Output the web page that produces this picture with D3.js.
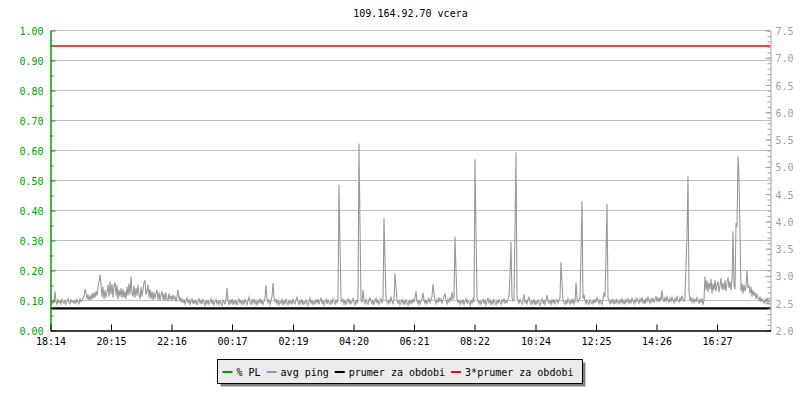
<!DOCTYPE html>
<html>
<head>
<meta charset="utf-8">
<script src="https://cdn.jsdelivr.net/npm/d3@7"></script>
<style>
  html, body { margin: 0; padding: 0; background: #fff; }
  svg { display: block; font-family: "DejaVu Sans Mono", monospace; }
</style>
</head>
<body>
<svg id="chart" width="800" height="400"></svg>
<script>
// ---------------- data ----------------
const chartTitle = "109.164.92.70 vcera";
const timeTickLabels = ["18:14","20:15","22:16","00:17","02:19","04:20","06:21","08:22","10:24","12:25","14:26","16:27"];
const timeTickMinutes = [0,121,242,363,485,606,727,848,970,1091,1212,1333];
const periodMinutes = 1440;
const sampleStepMinutes = 2;
const plTickValues = [0,0.1,0.2,0.3,0.4,0.5,0.6,0.7,0.8,0.9,1.0];
const pingTickValues = [2.0,2.5,3.0,3.5,4.0,4.5,5.0,5.5,6.0,6.5,7.0,7.5];
const plDomain = [0, 1];
const pingDomain = [2, 7.5];
// avg ping (right axis), one sample every 2 minutes
const avgPing = [
  2.52,2.49,2.55,2.50,2.72,2.53,2.48,2.56,2.51,2.54,2.49,2.57,2.52,2.50,2.55,2.48,2.53,2.58,2.51,2.49,2.56,2.52,2.54,2.50,
  2.55,2.50,2.57,2.52,2.49,2.58,2.53,2.56,2.60,2.62,2.76,2.70,2.58,2.66,2.55,2.64,2.56,2.68,2.58,2.70,2.60,2.72,2.64,2.80,
  2.90,3.02,2.85,2.62,2.80,2.58,2.74,2.60,2.70,2.84,2.62,2.90,2.66,2.85,2.60,2.82,2.88,2.64,2.84,2.58,2.75,2.62,2.78,2.60,
  2.76,2.60,2.72,2.58,2.80,2.64,2.86,2.66,2.99,2.70,2.62,2.82,2.60,2.78,2.64,2.84,2.66,2.58,2.80,2.62,2.74,2.88,2.92,2.66,
  2.72,2.84,2.60,2.76,2.58,2.72,2.56,2.70,2.58,2.68,2.74,2.56,2.70,2.55,2.66,2.72,2.56,2.68,2.54,2.70,2.58,2.55,2.68,2.57,
  2.64,2.55,2.66,2.58,2.62,2.53,2.63,2.75,2.56,2.61,2.52,2.59,2.50,2.57,2.49,2.55,2.60,2.50,2.56,2.48,2.54,2.58,2.49,2.55,
  2.50,2.56,2.47,2.53,2.59,2.50,2.55,2.48,2.57,2.52,2.46,2.54,2.49,2.56,2.48,2.53,2.58,2.49,2.55,2.47,2.52,2.57,2.49,2.54,
  2.48,2.55,2.50,2.46,2.56,2.52,2.49,2.57,2.78,2.53,2.48,2.55,2.50,2.58,2.47,2.54,2.49,2.56,2.46,2.53,2.59,2.50,2.55,2.48,
  2.54,2.49,2.57,2.52,2.47,2.55,2.61,2.53,2.48,2.56,2.50,2.58,2.49,2.54,2.46,2.55,2.51,2.59,2.49,2.56,2.48,2.53,2.60,2.83,
  2.58,2.51,2.56,2.48,2.54,2.62,2.87,2.60,2.52,2.57,2.49,2.55,2.47,2.53,2.50,2.56,2.48,2.54,2.49,2.57,2.51,2.47,2.55,2.50,
  2.54,2.48,2.58,2.51,2.49,2.56,2.61,2.52,2.48,2.55,2.50,2.57,2.47,2.53,2.49,2.56,2.51,2.46,2.54,2.59,2.50,2.55,2.48,2.53,
  2.49,2.56,2.51,2.58,2.48,2.54,2.60,2.50,2.55,2.47,2.53,2.57,2.49,2.56,2.51,2.48,2.55,2.50,2.58,2.52,2.48,2.56,2.51,2.58,
  4.67,3.57,2.60,2.52,2.57,2.49,2.55,2.48,2.54,2.58,2.50,2.56,2.49,2.53,2.59,2.51,2.47,2.55,2.50,2.57,5.43,3.93,2.56,2.51,
  2.74,2.55,2.49,2.57,2.51,2.48,2.56,2.60,2.52,2.49,2.55,2.47,2.54,2.59,2.50,2.56,2.48,2.53,2.58,2.51,2.55,4.06,3.29,2.58,
  2.52,2.49,2.56,2.51,2.62,2.54,2.49,2.57,3.05,2.80,2.56,2.50,2.55,2.47,2.53,2.57,2.49,2.54,2.48,2.56,2.51,2.46,2.54,2.49,
  2.55,2.50,2.57,2.52,2.60,2.72,2.54,2.49,2.56,2.48,2.53,2.58,2.69,2.55,2.50,2.57,2.49,2.54,2.60,2.51,2.56,2.62,2.85,2.68,
  2.55,2.49,2.57,2.51,2.61,2.54,2.58,2.50,2.56,2.62,2.68,2.55,2.49,2.57,2.52,2.60,2.56,2.70,2.58,2.62,3.72,3.11,2.57,2.51,
  2.55,2.48,2.54,2.50,2.57,2.47,2.53,2.59,2.49,2.55,2.51,2.46,2.56,2.50,2.58,2.52,5.14,3.82,2.60,2.54,2.49,2.56,2.48,2.53,
  2.57,2.50,2.55,2.47,2.53,2.60,2.51,2.56,2.48,2.54,2.49,2.57,2.52,2.47,2.55,2.50,2.58,2.51,2.48,2.56,2.52,2.59,2.49,2.55,
  2.51,2.58,2.62,3.02,3.63,2.60,2.54,2.57,3.88,5.27,2.62,2.55,2.50,2.57,2.52,2.48,2.56,2.66,2.51,2.55,2.49,2.57,2.61,2.52,
  2.48,2.55,2.50,2.57,2.47,2.53,2.49,2.56,2.51,2.46,2.54,2.58,2.49,2.55,2.48,2.53,2.65,2.57,2.50,2.54,2.48,2.56,2.51,2.58,
  2.49,2.54,2.57,2.50,2.55,2.60,3.25,2.89,2.56,2.51,2.48,2.55,2.50,2.58,2.52,2.48,2.56,2.51,2.57,2.49,2.54,2.88,2.58,2.52,
  2.56,2.60,3.44,4.37,2.58,2.66,2.54,2.49,2.56,2.51,2.48,2.57,2.52,2.49,2.55,2.50,2.58,2.51,2.61,2.55,2.49,2.56,2.51,2.48,
  2.57,2.70,2.62,3.38,4.32,2.60,2.54,2.49,2.56,2.51,2.58,2.48,2.55,2.50,2.57,2.52,2.49,2.56,2.51,2.59,2.50,2.55,2.48,2.57,
  2.52,2.58,2.50,2.56,2.51,2.60,2.54,2.49,2.57,2.52,2.59,2.55,2.50,2.58,2.53,2.61,2.51,2.56,2.49,2.58,2.53,2.62,2.55,2.50,
  2.58,2.53,2.60,2.51,2.57,2.63,2.54,2.59,2.52,2.61,2.55,2.74,2.58,2.53,2.60,2.54,2.62,2.56,2.52,2.59,2.54,2.61,2.55,2.51,
  2.59,2.54,2.62,2.56,2.52,2.60,2.55,2.64,2.57,2.54,2.61,3.20,3.73,4.83,2.70,2.55,2.60,2.52,2.58,2.51,2.57,2.53,2.60,2.54,
  2.50,2.57,2.52,2.59,2.47,2.56,2.99,2.74,2.92,2.70,2.88,2.76,2.95,2.68,2.86,2.74,2.93,2.72,2.84,2.90,2.70,2.82,2.96,2.75,
  2.87,2.74,2.92,2.72,2.88,2.98,2.78,2.90,2.74,2.94,3.82,2.82,2.76,3.97,3.90,5.19,4.79,3.79,2.72,2.86,2.68,2.84,2.72,2.80,
  3.10,2.78,2.82,2.68,2.80,2.62,2.74,2.64,2.70,2.58,2.66,2.60,2.55,2.62,2.52,2.58,2.54,2.50,2.57,2.52,2.60,2.51,2.56,2.53
];
const periodAverage = 2.405;
const averageMultiplier = 3;
const legendLabels = ["% PL", "avg ping", "prumer za obdobi", "3*prumer za obdobi"];
const legendColors = ["#00a000", "#999999", "#000000", "#ff0000"];

// ---------------- layout ----------------
const svg = d3.select("#chart");
const plotLeft = 50.5, plotRight = 770.5, plotTop = 30.5, plotBottom = 330.5;

const x = d3.scaleLinear().domain([0, periodMinutes]).range([plotLeft, plotRight]);
const yPL = d3.scaleLinear().domain(plDomain).range([plotBottom, plotTop]);
const yPing = d3.scaleLinear().domain(pingDomain).range([plotBottom, plotTop]);

svg.append("rect").attr("width", 800).attr("height", 400).attr("fill", "#fff");

// title
svg.append("text").attr("x", (plotLeft + plotRight) / 2).attr("y", 17)
  .attr("text-anchor", "middle").attr("font-size", 10).attr("fill", "#000")
  .text(chartTitle);

// gridlines
svg.append("g").selectAll("line").data(plTickValues.filter(d => d > 0)).join("line")
  .attr("x1", plotLeft).attr("x2", plotRight)
  .attr("y1", d => Math.round(yPL(d) - 0.5) + 0.5).attr("y2", d => Math.round(yPL(d) - 0.5) + 0.5)
  .attr("stroke", "#c0c0c0").attr("stroke-width", 1);

// avg ping line
const pingLine = d3.line()
  .x((d, i) => x(i * sampleStepMinutes) + 0.5)
  .y(d => yPing(d));
svg.append("path").datum(avgPing).attr("d", pingLine)
  .attr("fill", "none").attr("stroke", legendColors[1]).attr("stroke-width", 1.1);

// period average
svg.append("line").attr("x1", plotLeft).attr("x2", plotRight)
  .attr("y1", yPing(periodAverage)).attr("y2", yPing(periodAverage))
  .attr("stroke", legendColors[2]).attr("stroke-width", 2.2);
svg.append("line").attr("x1", plotLeft).attr("x2", plotRight)
  .attr("y1", yPing(periodAverage * averageMultiplier)).attr("y2", yPing(periodAverage * averageMultiplier))
  .attr("stroke", legendColors[3]).attr("stroke-width", 1.5);

// left axis (% PL)
const leftMinor = svg.append("g").attr("transform", `translate(${plotLeft},0)`)
  .call(d3.axisLeft(yPL).tickValues(d3.range(0.05, 1, 0.1)).tickSize(-3).tickSizeOuter(0).tickFormat(""));
leftMinor.select(".domain").remove();
leftMinor.selectAll("line").attr("stroke", legendColors[0]);
const leftAxis = svg.append("g").attr("transform", `translate(${plotLeft},0)`)
  .call(d3.axisLeft(yPL).tickValues(plTickValues).tickSize(-5).tickSizeOuter(0).tickPadding(7).tickFormat(d3.format(".2f")));
leftAxis.select(".domain").attr("stroke", legendColors[0]).attr("stroke-width", 1.5);
leftAxis.selectAll("line").attr("stroke", legendColors[0]);
leftAxis.selectAll("text").attr("fill", legendColors[0]).attr("font-size", 10)
  .attr("font-family", "DejaVu Sans Mono").attr("dy", "0.4em");

// right axis (ping)
const rightMinor = svg.append("g").attr("transform", `translate(${plotRight},0)`)
  .call(d3.axisRight(yPing).ticks(55).tickSize(-3).tickSizeOuter(0).tickFormat(""));
rightMinor.select(".domain").remove();
rightMinor.selectAll("line").attr("stroke", "#a0a0a0");
const rightAxis = svg.append("g").attr("transform", `translate(${plotRight},0)`)
  .call(d3.axisRight(yPing).tickValues(pingTickValues).tickSize(-5).tickSizeOuter(0).tickPadding(5).tickFormat(d3.format(".1f")));
rightAxis.select(".domain").attr("stroke", "#a0a0a0");
rightAxis.selectAll("line").attr("stroke", "#a0a0a0");
rightAxis.selectAll("text").attr("fill", "#a0a0a0").attr("font-size", 10)
  .attr("font-family", "DejaVu Sans Mono").attr("dy", "0.4em");

// bottom axis (time)
const bottomAxis = svg.append("g").attr("transform", `translate(0,${plotBottom})`)
  .call(d3.axisBottom(x).tickValues(timeTickMinutes).tickSize(-6).tickSizeOuter(0).tickPadding(7)
    .tickFormat((d, i) => timeTickLabels[i]));
bottomAxis.select(".domain").attr("stroke", "#000").attr("stroke-width", 1.5);
bottomAxis.selectAll("line").attr("stroke", "#000");
bottomAxis.selectAll("text").attr("fill", "#000").attr("font-size", 10).attr("font-family", "DejaVu Sans Mono");

// legend
const legend = svg.append("g");
const shadow = legend.append("rect");
const box = legend.append("rect");
const items = legend.append("g");
let cx = 0;
legendLabels.forEach((lab, i) => {
  const g = items.append("g").attr("transform", `translate(${cx},0)`);
  g.append("line").attr("x1", 0).attr("x2", 10).attr("y1", 0).attr("y2", 0)
    .attr("stroke", legendColors[i]).attr("stroke-width", 2);
  const t = g.append("text").attr("x", 14).attr("y", 3.5).attr("font-size", 10)
    .attr("fill", "#000").text(lab);
  cx += 14 + t.node().getComputedTextLength() + 6;
});
const contentW = cx - 6;
const boxW = contentW + 14;
const boxX = Math.round(399 - boxW / 2) + 0.5;
const boxY = 359.5, boxH = 24;
items.attr("transform", `translate(${boxX + 5},${boxY + 12.5})`);
shadow.attr("x", boxX + 3).attr("y", boxY + 3).attr("width", boxW).attr("height", boxH).attr("fill", "#808080");
box.attr("x", boxX).attr("y", boxY).attr("width", boxW).attr("height", boxH)
  .attr("fill", "#ebebeb").attr("stroke", "#000").attr("stroke-width", 1);
</script>
</body>
</html>
